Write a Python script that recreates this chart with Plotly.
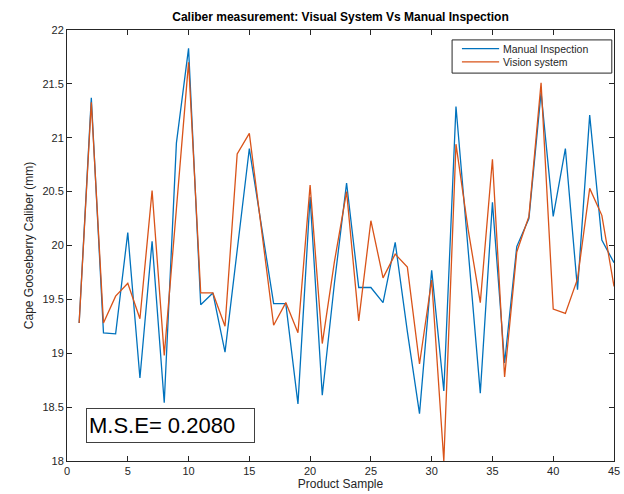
import plotly.graph_objects as go

samples = list(range(1, 46))
manual = [19.28, 21.37, 19.19, 19.18, 20.12, 18.77, 20.04, 18.54, 20.95, 21.83,
          19.45, 19.56, 19.01, 19.97, 20.90, 20.18, 19.46, 19.46, 18.53, 20.45,
          18.61, 19.65, 20.58, 19.61, 19.61, 19.47, 20.03, 19.20, 18.44, 19.77,
          18.65, 21.29, 20.00, 18.63, 20.40, 18.91, 19.99, 20.25, 21.42, 20.27,
          20.90, 19.59, 21.21, 20.05, 19.84]
vision = [19.28, 21.33, 19.28, 19.53, 19.65, 19.32, 20.51, 18.98, 20.34, 21.70,
          19.56, 19.56, 19.25, 20.85, 21.04, 20.15, 19.26, 19.47, 19.19, 20.56,
          19.09, 19.85, 20.50, 19.30, 20.23, 19.70, 19.92, 19.80, 18.90, 19.68,
          18.00, 20.94, 20.15, 19.47, 20.80, 18.78, 19.94, 20.27, 21.51, 19.41,
          19.37, 19.69, 20.53, 20.28, 19.62]
x_ticks = list(range(0, 46, 5))
y_ticks = [18, 18.5, 19, 19.5, 20, 20.5, 21, 21.5, 22]
series_names = ["Manual Inspection", "Vision system"]
series_colors = ["#0072BD", "#D95319"]
mse_label = "M.S.E= 0.2080"

fig = go.Figure()
for name, vals, col in zip(series_names, [manual, vision], series_colors):
    fig.add_trace(go.Scatter(x=samples, y=vals, mode="lines", name=name,
                             line=dict(color=col, width=1.3), showlegend=False))

axis_common = dict(showgrid=False, zeroline=False, showline=True, linecolor="#262626",
                   linewidth=1, mirror="ticks", ticks="inside", ticklen=5,
                   tickcolor="#262626", tickfont=dict(size=11, color="#262626"),
                   automargin=False)
fig.update_xaxes(range=[0, 45], tickvals=x_ticks,
                 title=dict(text="Product Sample", font=dict(size=12, color="#262626"), standoff=2),
                 **axis_common)
fig.update_yaxes(range=[18, 22], tickvals=y_ticks,
                 title=dict(text="Cape Gooseberry Caliber (mm)", font=dict(size=12, color="#262626"), standoff=6),
                 **axis_common)

fig.add_annotation(text=mse_label, xref="paper", yref="paper", x=0.035, y=0.042,
                   xanchor="left", yanchor="bottom", showarrow=False,
                   font=dict(size=22, color="black", family="Liberation Sans, Arial"),
                   width=163, height=29, align="left",
                   bordercolor="#404040", borderwidth=1, borderpad=2, bgcolor="white")

# legend box (drawn in paper coordinates)
fig.add_shape(type="rect", xref="paper", yref="paper", x0=0.704, x1=0.996, y0=0.900, y1=0.977,
              line=dict(color="#262626", width=1), fillcolor="white", layer="above")
for i, (name, col) in enumerate(zip(series_names, series_colors)):
    yy = 0.957 - i * 0.031
    fig.add_shape(type="line", xref="paper", yref="paper", x0=0.722, x1=0.790, y0=yy, y1=yy,
                  line=dict(color=col, width=1.3), layer="above")
    fig.add_annotation(text=name, xref="paper", yref="paper", x=0.794, y=yy,
                       xanchor="left", yanchor="middle", showarrow=False,
                       font=dict(size=10.5, color="#262626"))

fig.update_layout(
    width=624, height=494,
    margin=dict(l=67, r=10, t=30, b=33),
    paper_bgcolor="white", plot_bgcolor="white",
    font=dict(family="Liberation Sans, Arial, sans-serif"),
    title=dict(text="<b>Caliber measurement: Visual System Vs Manual Inspection</b>",
               x=0.5, xref="paper", xanchor="center", y=1 - 17 / 494, yanchor="middle",
               font=dict(size=12, color="black")),
    showlegend=False,
)

# remove the browser's default page margin so the figure fills the window
fig.write_html("out.html", config={"displayModeBar": False},
               post_script="document.body.style.margin='0';document.body.style.overflow='hidden';")
